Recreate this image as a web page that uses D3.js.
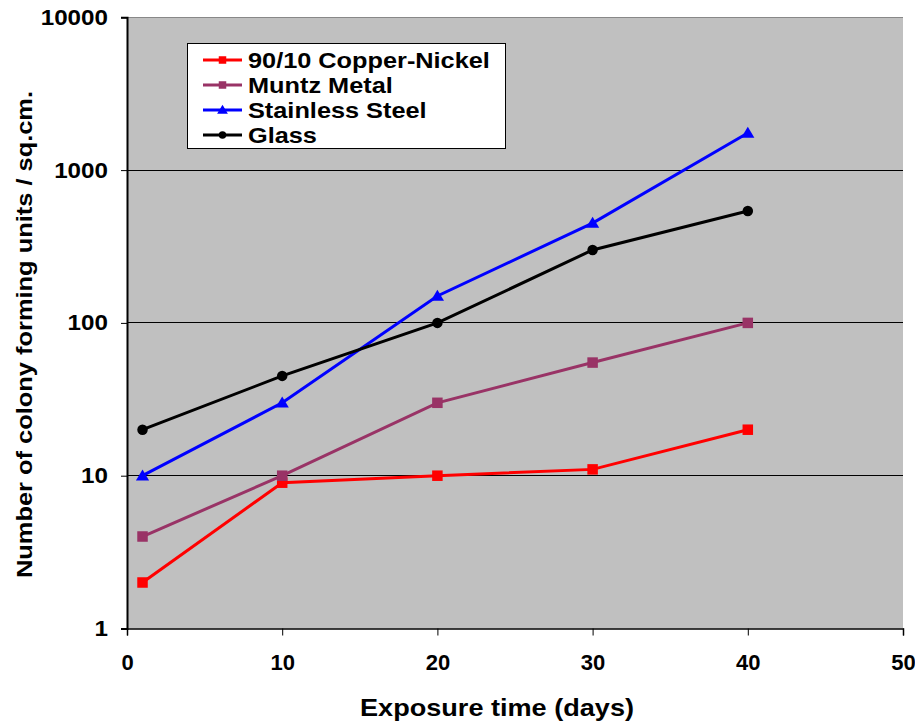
<!DOCTYPE html>
<html><head><meta charset="utf-8">
<script src="https://cdn.jsdelivr.net/npm/d3@7"></script>
<style>
body{margin:0;background:#fff;}
text{font-family:"Liberation Sans",Arial,sans-serif;font-weight:bold;fill:#000;}
</style></head>
<body><svg id="c" width="915" height="721"></svg>
<script>
const days = [1, 10, 20, 30, 40];
const copperNickel = [2, 9, 10, 11, 20];
const muntzMetal = [4, 10, 30, 55, 100];
const stainlessSteel = [10, 30, 150, 450, 1750];
const glass = [20, 45, 100, 300, 540];
const seriesNames = ["90/10 Copper-Nickel", "Muntz Metal", "Stainless Steel", "Glass"];
const xTicks = [0, 10, 20, 30, 40, 50];
const yTicks = [1, 10, 100, 1000, 10000];
const xTitle = "Exposure time (days)";
const yTitle = "Number of colony forming units / sq.cm.";

const series = [
  {name: seriesNames[0], values: copperNickel, color: "#FF0000", shape: "square"},
  {name: seriesNames[1], values: muntzMetal, color: "#993366", shape: "square"},
  {name: seriesNames[2], values: stainlessSteel, color: "#0000FF", shape: "triangle"},
  {name: seriesNames[3], values: glass, color: "#000000", shape: "circle"}
];

const svg = d3.select("#c");
const L = 127, R = 903, T = 17.3, B = 628.5;
const x = d3.scaleLinear().domain([0, 50]).range([L, R]);
const y = d3.scaleLog().domain([1, 10000]).range([B, T]);

// plot background
svg.append("rect").attr("x", L).attr("y", T).attr("width", R - L).attr("height", B - T).attr("fill", "#C0C0C0");

// gridlines
svg.append("g").selectAll("line").data(yTicks.slice(1)).join("line")
  .attr("x1", L).attr("x2", R).attr("y1", d => y(d)).attr("y2", d => y(d))
  .attr("stroke", d => d === 10000 ? "#888" : "#000").attr("stroke-width", 1).attr("shape-rendering", "crispEdges");

// axes
const xAxis = svg.append("g").attr("transform", `translate(0,${B})`)
  .call(d3.axisBottom(x).tickValues(xTicks).tickSize(7).tickPadding(19).tickFormat(d3.format("d")));
xAxis.select(".domain").attr("stroke", "#000").attr("stroke-width", 1.5);
xAxis.selectAll("text").attr("font-size", 22).attr("font-family", "Liberation Sans").attr("font-weight", "bold");

const yAxis = svg.append("g").attr("transform", `translate(${L},0)`)
  .call(d3.axisLeft(y).tickValues(yTicks).tickSize(6).tickPadding(13).tickFormat(d3.format("d")));
yAxis.select(".domain").attr("stroke", "#000").attr("stroke-width", 2);
yAxis.selectAll("text").attr("font-size", 22).attr("font-family", "Liberation Sans").attr("font-weight", "bold")
  .each(function(){ const n = this.getComputedTextLength(); d3.select(this).attr("textLength", n * 1.1).attr("lengthAdjust", "spacingAndGlyphs"); });
svg.selectAll(".tick line").attr("stroke", "#000");

// titles
svg.append("text").attr("x", 497).attr("y", 716).attr("text-anchor", "middle").attr("font-size", 24)
  .attr("textLength", 274).attr("lengthAdjust", "spacingAndGlyphs").text(xTitle);
svg.append("text").attr("transform", "translate(32,334.5) rotate(-90)").attr("text-anchor", "middle").attr("font-size", 22)
  .attr("textLength", 487).attr("lengthAdjust", "spacingAndGlyphs").text(yTitle);

// markers
function marker(g, shape, cx, cy, size, color) {
  if (shape === "square") {
    g.append("rect").attr("x", cx - size / 2).attr("y", cy - size / 2).attr("width", size).attr("height", size).attr("fill", color);
  } else if (shape === "triangle") {
    const h = size * 0.95;
    g.append("path").attr("d", `M${cx},${cy - h * 0.6}L${cx + size * 0.6},${cy + h * 0.45}L${cx - size * 0.6},${cy + h * 0.45}Z`).attr("fill", color);
  } else {
    g.append("circle").attr("cx", cx).attr("cy", cy).attr("r", size / 2).attr("fill", color);
  }
}

const line = d3.line().x(d => x(d[0])).y(d => y(d[1]));
series.forEach(s => {
  const g = svg.append("g");
  const pts = days.map((d, i) => [d, s.values[i]]);
  g.append("path").attr("d", line(pts)).attr("fill", "none").attr("stroke", s.color).attr("stroke-width", 3);
  pts.forEach(p => marker(g, s.shape, x(p[0]), y(p[1]), s.shape === "triangle" ? 11 : 10.5, s.color));
});

// legend
const lg = svg.append("g");
lg.append("rect").attr("x", 187.5).attr("y", 43.5).attr("width", 318).attr("height", 105).attr("fill", "#fff").attr("stroke", "#000").attr("stroke-width", 1);
const rowY = d3.scalePoint().domain(seriesNames).range([60, 135]);
series.forEach(s => {
  const cy = rowY(s.name);
  lg.append("line").attr("x1", 203).attr("x2", 242).attr("y1", cy).attr("y2", cy).attr("stroke", s.color).attr("stroke-width", 3);
  marker(lg, s.shape, 222.5, cy, s.shape === "triangle" ? 9 : 7.5, s.color);
  lg.append("text").attr("x", 248).attr("y", cy + 8).attr("font-size", 22).text(s.name)
    .each(function(){ const n = this.getComputedTextLength(); d3.select(this).attr("textLength", n * 1.15).attr("lengthAdjust", "spacingAndGlyphs"); });
});
</script></body></html>
